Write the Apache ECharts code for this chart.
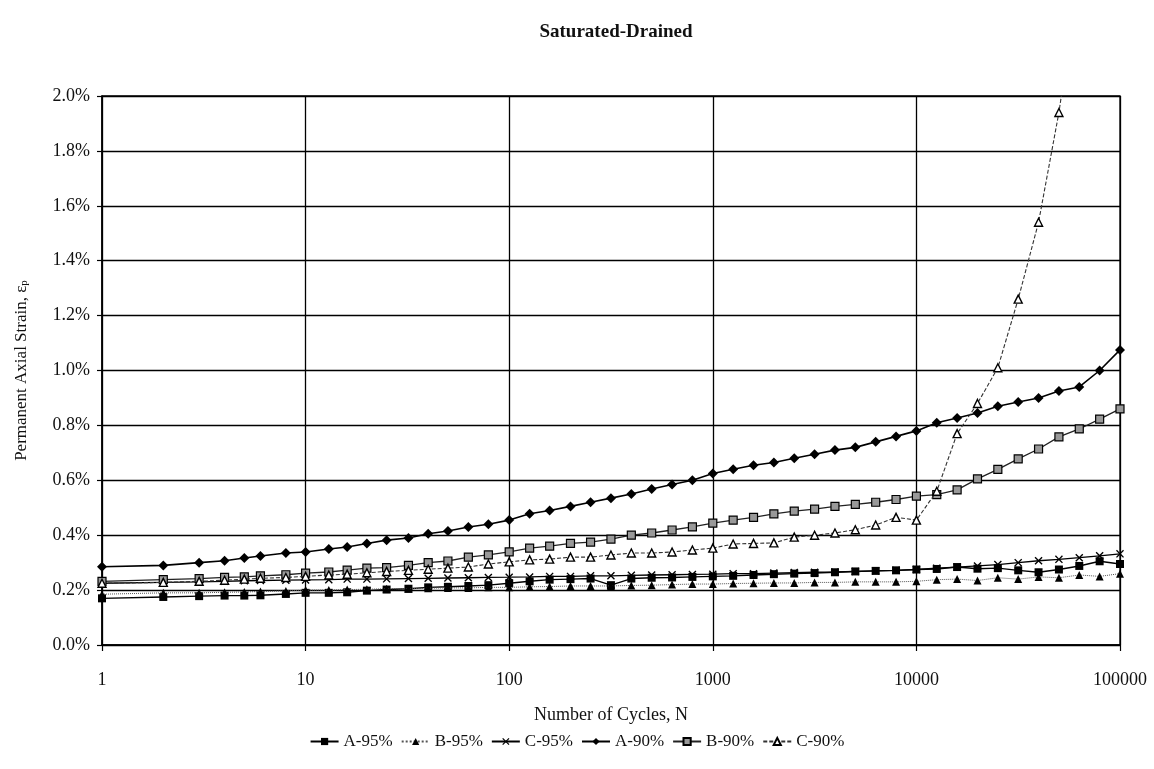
<!DOCTYPE html>
<html>
<head>
<meta charset="utf-8">
<script src="https://cdn.jsdelivr.net/npm/echarts@6/dist/echarts.min.js"></script>
<style>html,body{margin:0;padding:0;background:#fff}#c{width:1154px;height:769px}</style>
</head>
<body>
<div id="c"></div>
<script>
// Number of cycles (x values)
const cycles = [1,2,3,4,5,6,8,10,13,16,20,25,32,40,50,63,79,100,126,158,200,251,316,398,501,631,794,1000,1259,1585,1995,2512,3162,3981,5012,6310,7943,10000,12589,15849,19953,25119,31623,39811,50119,63096,79433,100000];
// Permanent axial strain (%)
const A95 = [0.170,0.175,0.178,0.180,0.180,0.181,0.186,0.190,0.190,0.192, 0.198,0.202,0.205,0.210,0.212,0.215,0.218,0.225,0.232,0.238, 0.240,0.242,0.218,0.242,0.245,0.246,0.248,0.250,0.252,0.255, 0.258,0.260,0.262,0.265,0.268,0.270,0.272,0.275,0.277,0.284, 0.278,0.280,0.272,0.265,0.275,0.288,0.305,0.295];
const B95 = [0.185,0.190,0.190,0.192,0.193,0.195,0.197,0.200,0.200,0.202, 0.203,0.205,0.205,0.207,0.208,0.208,0.210,0.210,0.212,0.213, 0.215,0.215,0.215,0.217,0.218,0.220,0.222,0.222,0.224,0.225, 0.226,0.226,0.228,0.228,0.230,0.230,0.230,0.232,0.238,0.240, 0.235,0.245,0.240,0.248,0.245,0.255,0.250,0.260];
const C95 = [0.225,0.228,0.230,0.232,0.234,0.235,0.236,0.237,0.238,0.240, 0.240,0.241,0.242,0.243,0.244,0.245,0.246,0.247,0.248,0.250, 0.250,0.252,0.252,0.254,0.255,0.256,0.257,0.258,0.260,0.260, 0.262,0.264,0.265,0.266,0.268,0.270,0.272,0.275,0.280,0.284, 0.288,0.293,0.300,0.307,0.312,0.318,0.325,0.332];
const A90 = [0.285,0.290,0.300,0.307,0.317,0.324,0.335,0.339,0.350,0.357, 0.370,0.382,0.390,0.405,0.415,0.430,0.440,0.455,0.478,0.490, 0.505,0.520,0.535,0.550,0.568,0.585,0.600,0.625,0.640,0.655, 0.665,0.680,0.695,0.710,0.720,0.740,0.760,0.780,0.810,0.827, 0.845,0.870,0.885,0.900,0.925,0.940,1.000,1.075];
const B90 = [0.232,0.238,0.242,0.246,0.248,0.252,0.256,0.262,0.266,0.273, 0.280,0.282,0.290,0.300,0.306,0.320,0.328,0.339,0.353,0.360, 0.370,0.375,0.386,0.400,0.408,0.419,0.430,0.444,0.455,0.465, 0.478,0.488,0.495,0.505,0.512,0.520,0.530,0.542,0.548,0.565, 0.605,0.640,0.678,0.714,0.758,0.787,0.823,0.860];
const C90 = [0.225,0.228,0.232,0.236,0.240,0.243,0.246,0.250,0.255,0.258, 0.263,0.268,0.272,0.276,0.280,0.284,0.295,0.303,0.310,0.313, 0.320,0.320,0.328,0.335,0.335,0.339,0.346,0.353,0.368,0.370, 0.372,0.393,0.400,0.408,0.420,0.437,0.465,0.455,0.560,0.770, 0.880,1.010,1.260,1.540,1.940,2.450,null,null];
const seriesNames = ['A-95%','B-95%','C-95%','A-90%','B-90%','C-90%'];
const xTickLabels = ['1','10','100','1000','10000','100000'];
const yTickLabels = ['0.0%','0.2%','0.4%','0.6%','0.8%','1.0%','1.2%','1.4%','1.6%','1.8%','2.0%'];

const FONT = 'Liberation Serif';
const XMARK = 'path://M0,1.2 L1.2,0 L5,3.8 L8.8,0 L10,1.2 L6.2,5 L10,8.8 L8.8,10 L5,6.2 L1.2,10 L0,8.8 L3.8,5 Z';
const pts = arr => cycles.map((c,i) => [c, arr[i]]);

const chart = echarts.init(document.getElementById('c'), null, {renderer:'canvas'});
const styles = [
  {data:A95, symbol:'rect', size:8, line:{color:'#000', width:1.4, type:'solid'}, item:{color:'#000'}},
  {data:B95, symbol:'triangle', size:8, line:{color:'#555', width:1, type:'dotted'}, item:{color:'#000'}},
  {data:C95, symbol:XMARK, size:8, line:{color:'#000', width:1.3, type:'solid'}, item:{color:'#000'}},
  {data:A90, symbol:'diamond', size:10, line:{color:'#000', width:1.6, type:'solid'}, item:{color:'#000'}},
  {data:B90, symbol:'rect', size:8, line:{color:'#222', width:1.3, type:'solid'}, item:{color:'#999', borderColor:'#000', borderWidth:1.2}},
  {data:C90, symbol:'triangle', size:8, line:{color:'#333', width:1.1, type:[4,2]}, item:{color:'#fff', borderColor:'#000', borderWidth:1.4}}
];
const series = styles.map((s,i) => ({
  name: seriesNames[i], type:'line', data: pts(s.data), symbol: s.symbol, symbolSize: s.size,
  showAllSymbol:true, connectNulls:false, clip:true, animation:false,
  lineStyle: s.line, itemStyle: s.item, z: 3 + i
}));

chart.setOption({
  backgroundColor:'#fff',
  animation:false,
  title:{text:'Saturated-Drained', left:611, textAlign:'center', top:18,
    textStyle:{fontFamily:FONT, fontSize:19, fontWeight:'bold', color:'#111'}},
  grid:{left:102, right:34, top:96, bottom:124, show:true, borderColor:'#000', borderWidth:1.3},
  legend:{bottom:14, left:'center', itemWidth:28, itemHeight:9, itemGap:8,
    textStyle:{fontFamily:FONT, fontSize:17, color:'#111'}, data: seriesNames},
  xAxis:{type:'log', logBase:10, min:1, max:100000, splitNumber:5,
    name:'Number of Cycles, N', nameLocation:'middle', nameGap:61,
    nameTextStyle:{fontFamily:FONT, fontSize:18, color:'#111'},
    axisLine:{lineStyle:{color:'#000', width:1.5}},
    axisTick:{show:true, length:6, lineStyle:{color:'#000', width:1.2}},
    minorTick:{show:false},
    splitLine:{show:true, lineStyle:{color:'#000', width:1.3}},
    axisLabel:{fontFamily:FONT, fontSize:18, color:'#111', margin:26,
      formatter: v => { const k = Math.round(Math.log10(v)); return xTickLabels[k] !== undefined ? xTickLabels[k] : ''; }}
  },
  yAxis:{type:'value', min:0, max:2, interval:0.2,
    name:'{a|Permanent Axial Strain, ε}{s|p}', nameLocation:'middle', nameGap:72, nameRotate:90,
    nameTextStyle:{fontFamily:FONT, color:'#111',
      rich:{a:{fontFamily:FONT, fontSize:17, color:'#111'}, s:{fontFamily:FONT, fontSize:11, color:'#111', verticalAlign:'bottom'}}},
    axisLine:{show:true, lineStyle:{color:'#000', width:1.5}},
    axisTick:{show:true, length:5, lineStyle:{color:'#000', width:1.2}},
    splitLine:{show:true, lineStyle:{color:'#000', width:1.3}},
    axisLabel:{fontFamily:FONT, fontSize:18, color:'#111', margin:12,
      formatter: v => yTickLabels[Math.round(v/0.2)]}
  },
  series: series
});
</script>
</body>
</html>
